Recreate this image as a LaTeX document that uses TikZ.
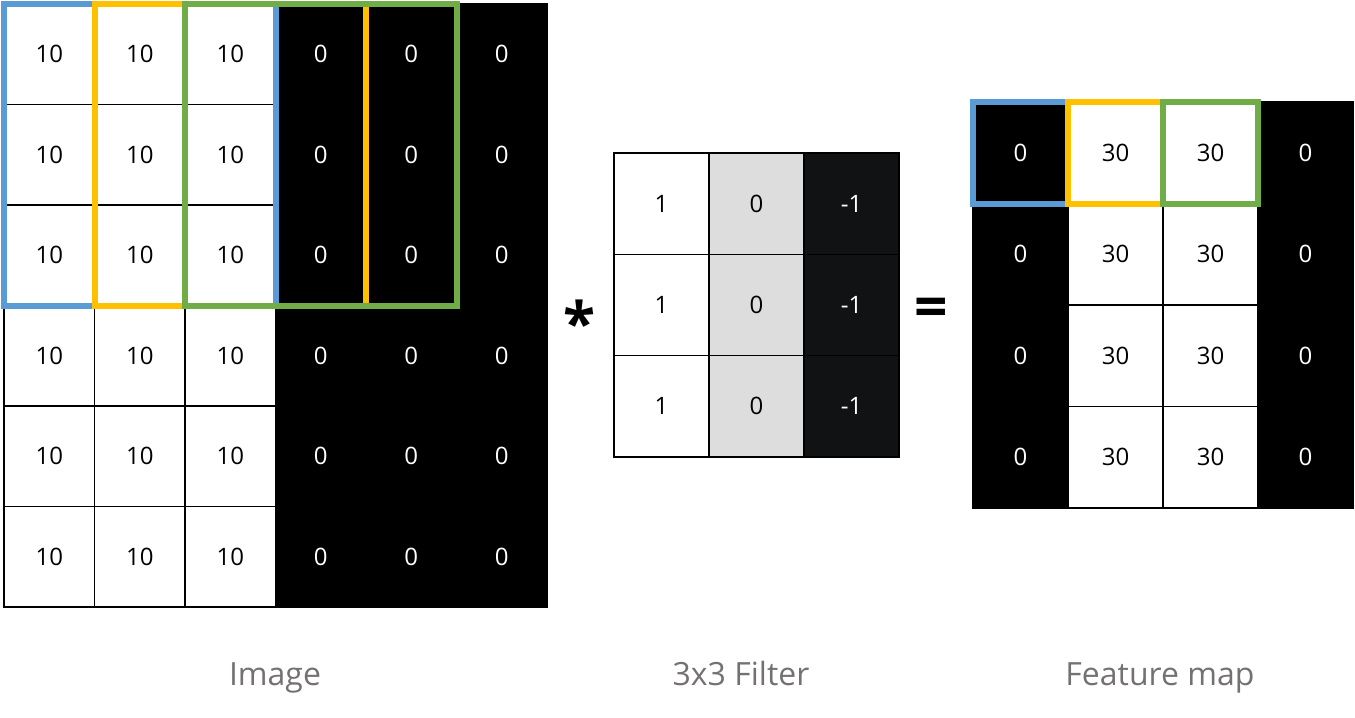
\documentclass[tikz,border=0pt]{standalone}
\usepackage{fontspec}
\setmainfont{Open Sans}
\definecolor{cblue}{HTML}{5B9BD5}
\definecolor{cyellow}{HTML}{FFC000}
\definecolor{cgreen}{HTML}{70AD47}
\definecolor{lgrey}{HTML}{DDDDDD}
\definecolor{dblack}{HTML}{111214}
\definecolor{labgrey}{HTML}{767171}
\begin{document}
\begin{tikzpicture}[x=0.75pt,y=-0.75pt,
  cell/.style={draw=black,line width=1pt,inner sep=0pt,outer sep=0pt,font=\fontsize{18}{20}\selectfont},
  wcell/.style={cell,fill=white,text=black},
  gcell/.style={cell,fill=lgrey,text=black},
  bcell/.style={cell,fill=black,text=white},
  dcell/.style={cell,fill=dblack,text=white},
  imgsz/.style={minimum width=67.875pt,minimum height=75.375pt},
  filsz/.style={minimum width=71.25pt,minimum height=76pt},
  feasz/.style={minimum width=71.25pt,minimum height=76.125pt},
  win/.style={line width=4.5pt,line join=miter},
  lab/.style={text=labgrey,font=\fontsize{24}{28}\selectfont,anchor=base},
  op/.style={font=\bfseries\fontsize{44}{48}\selectfont,inner sep=0pt}]
\useasboundingbox (0,0) rectangle (1355,717);
% Image
\foreach \r in {1,...,6}{
  \foreach \c in {1,2,3}{
    \node[wcell,imgsz] (img-\r-\c) at ({4+90.5*(\c-0.5)},{4+100.5*(\r-0.5)}) {10};
  }
  \foreach \c in {4,5,6}{
    \node[bcell,imgsz] (img-\r-\c) at ({4+90.5*(\c-0.5)},{4+100.5*(\r-0.5)}) {0};
  }
}
\draw[win,cblue] (img-1-1.north west) rectangle (img-3-3.south east);
\draw[win,cyellow] (img-1-2.north west) rectangle (img-3-4.south east);
\draw[win,cgreen] (img-1-3.north west) rectangle (img-3-5.south east);
% Filter
\foreach \r in {1,2,3}{
  \node[wcell,filsz] (fil-\r-1) at ({614+95*0.5},{153+101.33*(\r-0.5)}) {1};
  \node[gcell,filsz] (fil-\r-2) at ({614+95*1.5},{153+101.33*(\r-0.5)}) {0};
  \node[dcell,filsz] (fil-\r-3) at ({614+95*2.5},{153+101.33*(\r-0.5)}) {-1};
}
% Feature map
\foreach \r in {1,...,4}{
  \node[bcell,feasz] (fea-\r-1) at ({973+95*0.5},{102+101.5*(\r-0.5)}) {0};
  \node[wcell,feasz] (fea-\r-2) at ({973+95*1.5},{102+101.5*(\r-0.5)}) {30};
  \node[wcell,feasz] (fea-\r-3) at ({973+95*2.5},{102+101.5*(\r-0.5)}) {30};
  \node[bcell,feasz] (fea-\r-4) at ({973+95*3.5},{102+101.5*(\r-0.5)}) {0};
}
\draw[win,cblue] (fea-1-1.north west) rectangle (fea-1-1.south east);
\draw[win,cyellow] (fea-1-2.north west) rectangle (fea-1-2.south east);
\draw[win,cgreen] (fea-1-3.north west) rectangle (fea-1-3.south east);
% operators
\node[op] (ast) at (579,322) {*};
\node[op] (eq) at (931,313) {=};
% labels
\node[lab] (limg) at (275,685) {Image};
\node[lab] (lfil) at (741,685) {3x3 Filter};
\node[lab] (lfea) at (1160,685) {Feature map};
\end{tikzpicture}
\end{document}
